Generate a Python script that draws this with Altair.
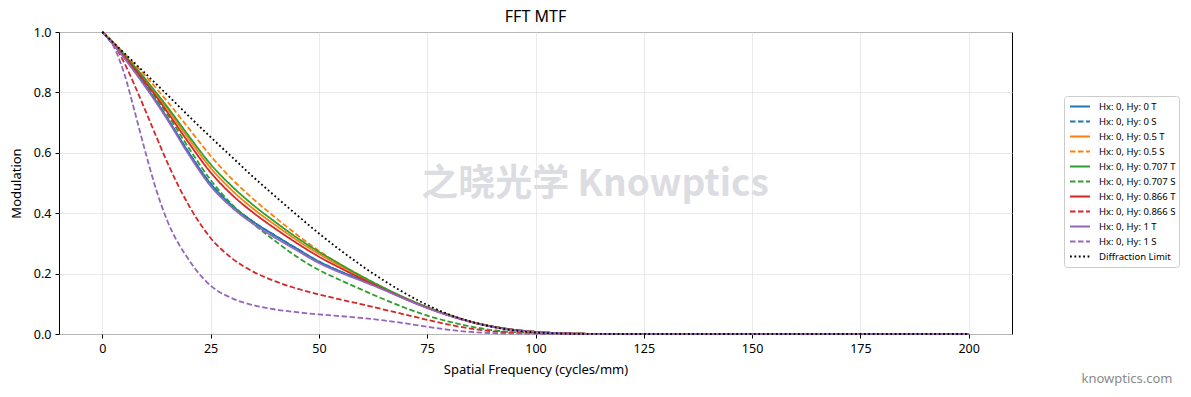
import altair as alt
import pandas as pd

# Spatial frequency samples (cycles/mm)
freq = [0, 2.5, 5, 7.5, 10, 12.5, 15, 20, 25, 30, 35, 40, 45, 50, 55, 60, 65,
        70, 75, 80, 85, 90, 95, 100, 105, 110, 120, 200]

# Modulation per field / orientation
hy0_t = [1, 0.96, 0.917, 0.87, 0.822, 0.77, 0.715, 0.6, 0.498, 0.425, 0.37, 0.325,
         0.282, 0.24, 0.207, 0.178, 0.148, 0.116, 0.087, 0.062, 0.041, 0.025, 0.014,
         0.007, 0.003, 0.001, 0, 0]
hy0_s = list(hy0_t)
hy05_t = [1, 0.963, 0.923, 0.882, 0.839, 0.793, 0.745, 0.645, 0.55, 0.475, 0.413, 0.36,
          0.31, 0.265, 0.225, 0.187, 0.151, 0.118, 0.088, 0.063, 0.041, 0.025, 0.014,
          0.007, 0.003, 0.001, 0, 0]
hy05_s = [1, 0.966, 0.93, 0.893, 0.854, 0.813, 0.77, 0.68, 0.59, 0.512, 0.445, 0.385,
          0.328, 0.275, 0.23, 0.19, 0.152, 0.117, 0.087, 0.062, 0.04, 0.024, 0.013,
          0.006, 0.003, 0.001, 0, 0]
hy0707_t = [1, 0.964, 0.925, 0.885, 0.843, 0.798, 0.752, 0.655, 0.562, 0.488, 0.425, 0.37,
            0.318, 0.272, 0.23, 0.19, 0.153, 0.119, 0.089, 0.063, 0.041, 0.025, 0.014,
            0.007, 0.003, 0.001, 0, 0]
hy0707_s = [1, 0.962, 0.92, 0.875, 0.83, 0.78, 0.728, 0.615, 0.51, 0.428, 0.363, 0.307,
            0.255, 0.212, 0.178, 0.146, 0.115, 0.086, 0.061, 0.041, 0.025, 0.013, 0.006,
            0.003, 0.001, 0, 0, 0]
hy0866_t = [1, 0.962, 0.92, 0.877, 0.832, 0.785, 0.735, 0.632, 0.535, 0.46, 0.4, 0.348,
            0.3, 0.256, 0.218, 0.182, 0.148, 0.116, 0.087, 0.062, 0.041, 0.025, 0.014,
            0.007, 0.003, 0.001, 0, 0]
hy0866_s = [1, 0.962, 0.9, 0.822, 0.738, 0.652, 0.568, 0.425, 0.318, 0.25, 0.205, 0.174,
            0.15, 0.131, 0.114, 0.098, 0.081, 0.064, 0.047, 0.031, 0.018, 0.009, 0.004,
            0.002, 0.001, 0, 0, 0]
hy1_t = [1, 0.959, 0.915, 0.867, 0.817, 0.765, 0.71, 0.593, 0.49, 0.418, 0.363, 0.318,
         0.276, 0.235, 0.203, 0.175, 0.146, 0.115, 0.086, 0.061, 0.04, 0.024, 0.013,
         0.007, 0.003, 0.001, 0, 0]
hy1_s = [1, 0.955, 0.865, 0.735, 0.6, 0.475, 0.375, 0.245, 0.16, 0.118, 0.095, 0.081,
         0.072, 0.065, 0.059, 0.053, 0.045, 0.035, 0.024, 0.014, 0.007, 0.003, 0.001,
         0.001, 0, 0, 0, 0]
diffraction = [1, 0.9655, 0.931, 0.8965, 0.862, 0.827, 0.792, 0.721, 0.652, 0.585,
               0.518, 0.455, 0.393, 0.333, 0.277, 0.225, 0.177, 0.134, 0.096, 0.065,
               0.041, 0.024, 0.012, 0.005, 0.002, 0.0005, 0, 0]

series_names = [
    "Hx: 0, Hy: 0 T", "Hx: 0, Hy: 0 S",
    "Hx: 0, Hy: 0.5 T", "Hx: 0, Hy: 0.5 S",
    "Hx: 0, Hy: 0.707 T", "Hx: 0, Hy: 0.707 S",
    "Hx: 0, Hy: 0.866 T", "Hx: 0, Hy: 0.866 S",
    "Hx: 0, Hy: 1 T", "Hx: 0, Hy: 1 S",
    "Diffraction Limit",
]
series_values = [hy0_t, hy0_s, hy05_t, hy05_s, hy0707_t, hy0707_s,
                 hy0866_t, hy0866_s, hy1_t, hy1_s, diffraction]
series_colors = ["#1f77b4", "#1f77b4", "#ff7f0e", "#ff7f0e", "#2ca02c", "#2ca02c",
                 "#d62728", "#d62728", "#9467bd", "#9467bd", "#000000"]
SOLID, DASHED, DOTTED = [1, 0], [5.5, 2.5], [1.8, 2.6]
series_dash = [SOLID, DASHED] * 5 + [DOTTED]

rows = []
for idx, (name, vals) in enumerate(zip(series_names, series_values)):
    for f, v in zip(freq, vals):
        rows.append({"freq": f, "mtf": v, "series": name, "idx": idx})
df = pd.DataFrame(rows)

FONT = "Noto Sans"
W, H = 953, 302

lines = alt.Chart(df).mark_line(strokeWidth=1.8, interpolate="monotone", strokeCap="butt").encode(
    x=alt.X("freq:Q",
            scale=alt.Scale(domain=[-10, 210], nice=False, zero=False),
            axis=alt.Axis(values=[0, 25, 50, 75, 100, 125, 150, 175, 200],
                          title="Spatial Frequency (cycles/mm)")),
    y=alt.Y("mtf:Q",
            scale=alt.Scale(domain=[0, 1], nice=False),
            axis=alt.Axis(values=[0, 0.2, 0.4, 0.6, 0.8, 1.0], format=".1f",
                          title="Modulation")),
    color=alt.Color("series:N",
                    scale=alt.Scale(domain=series_names, range=series_colors),
                    legend=alt.Legend(title=None, orient="none", legendX=1005, legendY=64,
                                      symbolType="stroke", symbolSize=400,
                                      symbolStrokeWidth=1.8, symbolOffset=2,
                                      labelFontSize=9.5, labelFont=FONT, labelColor="#000",
                                      clipHeight=15, rowPadding=0, padding=3,
                                      labelOffset=8, titlePadding=0,
                                      strokeColor="#cccccc", fillColor="white",
                                      cornerRadius=3, labelLimit=200)),
    strokeDash=alt.StrokeDash("series:N",
                              scale=alt.Scale(domain=series_names, range=series_dash),
                              legend=alt.Legend(title=None)),
    detail="idx:O",
    order="freq:Q",
)

mark_df = pd.DataFrame({"t": ["之晓光学 Knowptics"]})
watermark = alt.Chart(mark_df).mark_text(
    font="Noto Sans CJK SC", fontSize=37, fontWeight="bold", color="#dcdde2",
    align="center", baseline="middle"
).encode(x=alt.value(536), y=alt.value(153), text="t:N")

site_df = pd.DataFrame({"t": ["knowptics.com"]})
site = alt.Chart(site_df).mark_text(
    font=FONT, fontSize=13, color="#8a8a8a", align="center", baseline="middle"
).encode(x=alt.value(1068), y=alt.value(347), text="t:N")

chart = alt.layer(watermark, lines, site).properties(
    width=W, height=H,
    title=alt.TitleParams("FFT MTF", font=FONT, fontSize=16, fontWeight="normal",
                          color="#000", anchor="middle", offset=1),
    autosize=alt.AutoSizeParams(type="none"),
    padding={"left": 59, "top": 32, "right": 179, "bottom": 63},
).configure_view(
    stroke="#000", strokeWidth=1
).configure_axis(
    grid=True, gridColor="#e5e5e5", gridWidth=0.8,
    domain=False, tickColor="#000", tickSize=4, tickWidth=1,
    labelFont=FONT, labelFontSize=12.5, labelColor="#000", labelPadding=4,
    titleFont=FONT, titleFontSize=13, titleFontWeight="normal", titleColor="#000",
).configure_axisY(titlePadding=10).configure_axisX(titlePadding=9)

chart.save("out.html", embed_options={"renderer": "svg", "actions": False})
